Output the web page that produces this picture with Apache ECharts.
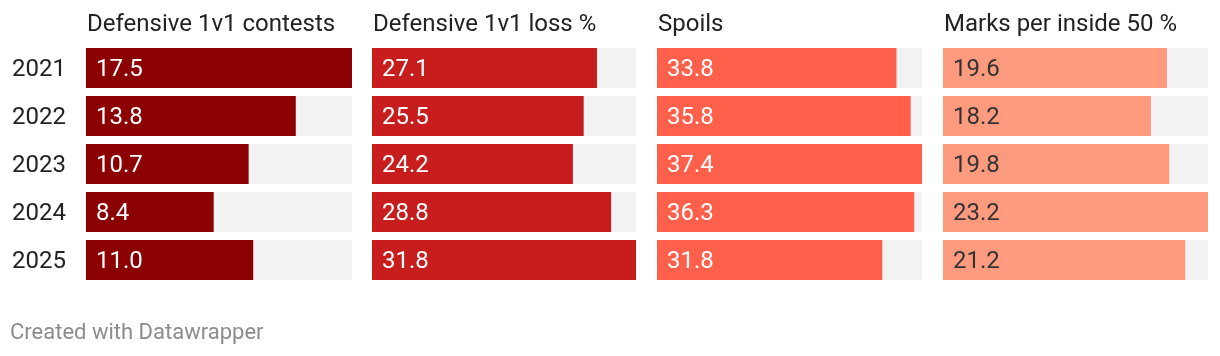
<!DOCTYPE html>
<html><head><meta charset="utf-8">
<script src="https://cdn.jsdelivr.net/npm/echarts@6/dist/echarts.min.js"></script>
<style>html,body{margin:0;padding:0;background:#fff}#c{width:1220px;height:356px}</style>
</head><body><div id="c"></div>
<script>
const years = ['2021','2022','2023','2024','2025'];
const titles = ['Defensive 1v1 contests','Defensive 1v1 loss %','Spoils','Marks per inside 50 %'];
const contests = [17.5,13.8,10.7,8.4,11.0];
const lossPct = [27.1,25.5,24.2,28.8,31.8];
const spoils = [33.8,35.8,37.4,36.3,31.8];
const marksIn50 = [19.6,18.2,19.8,23.2,21.2];
const seriesData = [contests,lossPct,spoils,marksIn50];
const colors = ['#8b0000','#c71e1d','#ff604b','#fe9a7e'];
const labelColors = ['#fff','#fff','#fff','#333'];
const lefts = [86,372,657,943];
const widths = [266,264,265,265];
const FONT = 'Roboto';
const chart = echarts.init(document.getElementById('c'));
const grid=[],xAxis=[],yAxis=[],series=[],title=[];
seriesData.forEach((d,i)=>{
  grid.push({left:lefts[i],width:widths[i],top:44,height:240});
  xAxis.push({gridIndex:i,type:'value',min:0,max:Math.max(...d),show:false});
  yAxis.push({gridIndex:i,type:'category',data:years,inverse:true,
    axisLine:{show:false},axisTick:{show:false},splitLine:{show:false},
    axisLabel:{show:i===0,align:'left',margin:lefts[0]-12,formatter:'{y|{value}}',
      rich:{y:{padding:[4,0,0,0],fontFamily:FONT,fontSize:24,color:'#222'}},
      fontFamily:FONT,fontSize:24,color:'#222'}});
  series.push({type:'bar',xAxisIndex:i,yAxisIndex:i,data:d,barWidth:40,
    showBackground:true,backgroundStyle:{color:'#f2f2f2'},
    itemStyle:{color:colors[i]},silent:true,animation:false,
    label:{show:true,position:'insideLeft',distance:10,offset:[0,2],fontFamily:FONT,fontSize:24,color:labelColors[i],
      formatter:p=>p.value.toFixed(1)}});
  title.push({text:titles[i],left:lefts[i]+1,top:13,padding:0,textStyle:{fontFamily:FONT,fontSize:24,fontWeight:'normal',color:'#222'}});
});
title.push({text:'Created with Datawrapper',left:10,top:322,padding:0,textStyle:{fontFamily:FONT,fontSize:22,fontWeight:'normal',color:'#8c8c8c'}});
chart.setOption({animation:false,title,grid,xAxis,yAxis,series});
</script></body></html>
